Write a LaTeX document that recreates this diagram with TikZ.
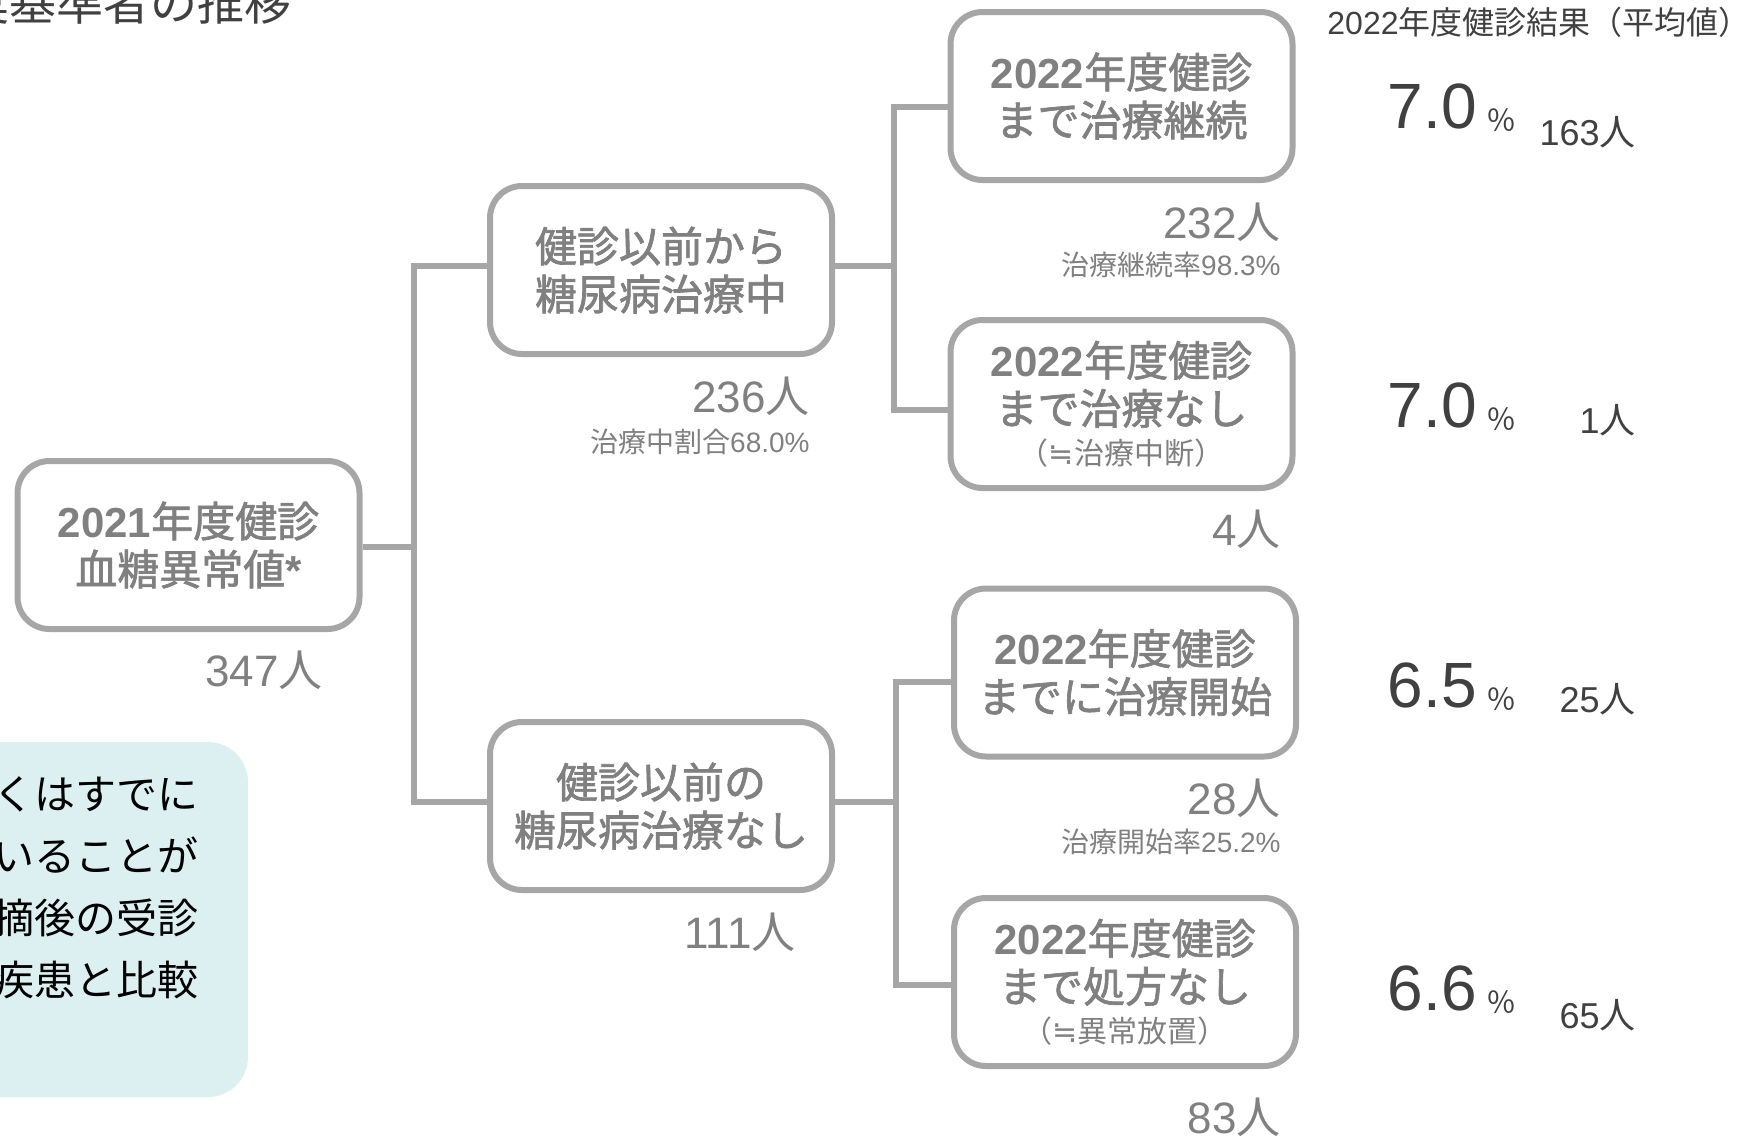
\documentclass[tikz,border=0pt]{standalone}
\usepackage{fontspec}
\setmainfont{Noto Sans CJK JP}
\newfontfamily\cjkmed{Noto Sans CJK JP}[FakeBold=1.6]
\newfontfamily\lat{Liberation Sans}
\newfontfamily\djv{DejaVu Sans}
\newcommand\bnum[1]{{\lat\bfseries #1}}
\newcommand\smline[1]{{\fontsize{15pt}{17pt}\selectfont\rmfamily\mdseries #1}}
\newcommand\approxim{{\djv ≒}}
\definecolor{boxline}{HTML}{A6A6A6}
\definecolor{boxtext}{HTML}{808080}
\definecolor{dark}{HTML}{404040}
\definecolor{notefill}{HTML}{DCF0F2}
\begin{document}
\begin{tikzpicture}[x=0.5pt,y=-0.5pt,
  box/.style={draw=boxline, line width=3pt, rounded corners=16pt, fill=white,
    minimum width=171pt, minimum height=84pt, inner sep=0pt, align=center,
    text=boxtext, font=\fontsize{21pt}{24pt}\selectfont\cjkmed},
  conn/.style={draw=boxline, line width=3pt, line join=miter},
  cnt/.style={text=boxtext, font=\fontsize{22pt}{24pt}\selectfont, inner sep=0pt, anchor=base east},
  rate/.style={text=boxtext, font=\fontsize{14pt}{16pt}\selectfont, inner sep=0pt, anchor=base east},
  val/.style={text=dark, font=\lat\fontsize{32pt}{34pt}\selectfont, inner sep=0pt, anchor=base east},
  pct/.style={text=dark, font=\fontsize{15pt}{16pt}\selectfont, inner sep=0pt, anchor=base west},
  num/.style={text=dark, font=\fontsize{18pt}{20pt}\selectfont, inner sep=0pt, anchor=base east},
  noteline/.style={text=black, font=\fontsize{20.5pt}{24pt}\selectfont, inner sep=0pt, anchor=base east}
]
\useasboundingbox (0,0) rectangle (1739,1137);
\clip (0,0) rectangle (1739,1137);

% title (cut off)
\node[text=dark, font=\fontsize{23.5pt}{26pt}\selectfont, inner sep=0pt, anchor=base west] (title) at (-38,20) {奨基準者の推移};

% note box
\node[fill=notefill, rounded corners=20pt, minimum width=154pt, minimum height=177.5pt, inner sep=0pt] (note) at (94,919.5) {};
\node[noteline] (n1) at (199,809) {くはすでに};
\node[noteline] (n2) at (199,871) {いることが};
\node[noteline] (n3) at (199,933) {摘後の受診};
\node[noteline] (n4) at (199,995) {疾患と比較};

% boxes
\node[box] (root) at (188.5,545) {\bnum{2021}年度健診\\血糖異常値\bnum{*}};
\node[box] (b2) at (661,270) {健診以前から\\糖尿病治療中};
\node[box] (b3) at (661,806) {健診以前の\\糖尿病治療なし};
\node[box] (b4) at (1121.5,96) {\bnum{2022}年度健診\\まで治療継続};
\node[box] (b5) at (1121.5,404) {\bnum{2022}年度健診\\まで治療なし\\[-4pt]\smline{（\approxim 治療中断）}};
\node[box] (b6) at (1125,672.5) {\bnum{2022}年度健診\\までに治療開始};
\node[box] (b7) at (1125,982) {\bnum{2022}年度健診\\まで処方なし\\[-4pt]\smline{（\approxim 異常放置）}};

% connectors
\coordinate (j1) at (414,547);
\coordinate (j2) at (894,266);
\coordinate (j3) at (896,802);
\draw[conn] ([yshift=-1pt]root.east) -- (j1);
\draw[conn] ([yshift=2pt]b2.west) -| (j1) |- ([yshift=2pt]b3.west);
\draw[conn] ([yshift=2pt]b2.east) -- (j2);
\draw[conn] ([yshift=-5.5pt]b4.west) -| (j2) |- ([yshift=-3pt]b5.west);
\draw[conn] ([yshift=2pt]b3.east) -- (j3);
\draw[conn] ([yshift=-4.75pt]b6.west) -| (j3) |- ([yshift=-1.5pt]b7.west);

% counts
\node[cnt] (c1) at (323,686) {{\lat 347}人};
\node[cnt] (c2) at (810,412) {{\lat 236}人};
\node[rate] (r2) at (810,452) {治療中割合{\lat 68.0\%}};
\node[cnt] (c3) at (796,948) {{\lat 111}人};
\node[cnt] (c4) at (1281,238) {{\lat 232}人};
\node[rate] (r4) at (1281,275) {治療継続率{\lat 98.3\%}};
\node[cnt] (c5) at (1281,545) {{\lat 4}人};
\node[cnt] (c6) at (1281,814) {{\lat 28}人};
\node[rate] (r6) at (1281,852) {治療開始率{\lat 25.2\%}};
\node[cnt] (c7) at (1281,1133) {{\lat 83}人};

% right column
\node[text=dark, font=\fontsize{16pt}{18pt}\selectfont, inner sep=0pt, anchor=base west] (head) at (1327,34) {{\lat 2022}年度健診結果（平均値）};
\node[val] (v4) at (1477,128) {7.0};
\node[pct] (p4) at (1486,131) {％};
\node[num] (m4) at (1636,145) {{\lat 163}人};
\node[val] (v5) at (1477,427) {7.0};
\node[pct] (p5) at (1486,430) {％};
\node[num] (m5) at (1636,433) {{\lat 1}人};
\node[val] (v6) at (1477,707) {6.5};
\node[pct] (p6) at (1486,710) {％};
\node[num] (m6) at (1636,712) {{\lat 25}人};
\node[val] (v7) at (1477,1010) {6.6};
\node[pct] (p7) at (1486,1013) {％};
\node[num] (m7) at (1636,1028) {{\lat 65}人};
\end{tikzpicture}
\end{document}
